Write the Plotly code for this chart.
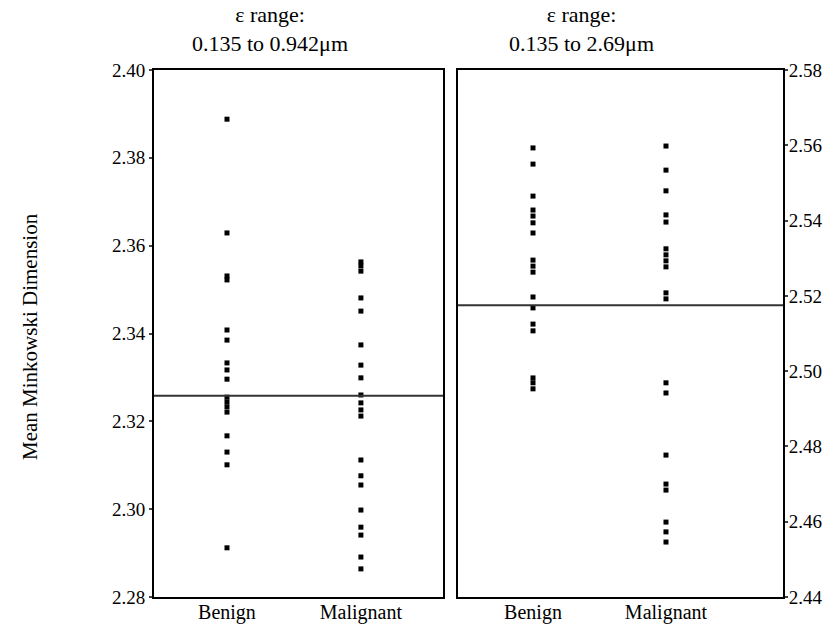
import plotly.graph_objects as go

categories = ["Benign", "Malignant"]

# Left panel: epsilon range 0.135 to 0.942 um
left_benign = [2.3888, 2.3629, 2.3531, 2.3522, 2.3408, 2.3385, 2.3333, 2.3317, 2.3296,
               2.3255, 2.3244, 2.3233, 2.3221, 2.3167, 2.3130, 2.3101, 2.2912]
left_malignant = [2.3563, 2.3554, 2.3542, 2.3481, 2.3451, 2.3374, 2.3328, 2.3299, 2.3260,
                  2.3242, 2.3226, 2.3212, 2.3112, 2.3076, 2.3055, 2.2998, 2.2959, 2.2941,
                  2.2891, 2.2864]
left_threshold = 2.3258

# Right panel: epsilon range 0.135 to 2.69 um
right_benign = [2.5593, 2.5550, 2.5465, 2.5428, 2.5412, 2.5394, 2.5367, 2.5295, 2.5279,
                2.5263, 2.5197, 2.5168, 2.5125, 2.5107, 2.4982, 2.4969, 2.4953]
right_malignant = [2.5598, 2.5534, 2.5479, 2.5415, 2.5396, 2.5325, 2.5309, 2.5293, 2.5277,
                   2.5208, 2.5192, 2.4969, 2.4942, 2.4777, 2.4700, 2.4684, 2.4599, 2.4573,
                   2.4546]
right_threshold = 2.5175

left_ticks = [2.28, 2.30, 2.32, 2.34, 2.36, 2.38, 2.40]
right_ticks = [2.44, 2.46, 2.48, 2.50, 2.52, 2.54, 2.56, 2.58]

titles = ["ε range:<br>0.135 to 0.942μm", "ε range:<br>0.135 to 2.69μm"]
y_title = "Mean Minkowski Dimension"

FONT = "Liberation Serif"
W, H = 825, 637

fig = go.Figure()

marker = dict(symbol="square", size=5, color="black")

for xa, ya, ben, mal in [("x", "y", left_benign, left_malignant),
                         ("x2", "y2", right_benign, right_malignant)]:
    fig.add_trace(go.Scatter(x=[categories[0]] * len(ben), y=ben, mode="markers",
                             marker=marker, xaxis=xa, yaxis=ya, showlegend=False))
    fig.add_trace(go.Scatter(x=[categories[1]] * len(mal), y=mal, mode="markers",
                             marker=marker, xaxis=xa, yaxis=ya, showlegend=False))

# threshold lines spanning each panel
fig.add_shape(type="line", xref="x domain", yref="y", x0=0, x1=1,
              y0=left_threshold, y1=left_threshold, line=dict(color="#333", width=2))
fig.add_shape(type="line", xref="x2 domain", yref="y2", x0=0, x1=1,
              y0=right_threshold, y1=right_threshold, line=dict(color="#333", width=2))

ydom = [1 - 597 / H, 1 - 70 / H]
axis_common = dict(showline=True, linecolor="black", linewidth=2, mirror=True,
                   showgrid=False, zeroline=False, automargin=False)

tick_font = dict(family=FONT, size=20, color="black")
ytick_font = dict(family=FONT, size=19, color="black")

fig.update_layout(
    template="none",
    width=W, height=H,
    margin=dict(l=0, r=0, t=0, b=0, pad=0, autoexpand=False),
    paper_bgcolor="white", plot_bgcolor="white",
    font=dict(family=FONT, color="black"),
    xaxis=dict(domain=[154 / W, 443 / W], type="category", categoryorder="array",
               categoryarray=categories, range=[-0.545, 1.613], ticks="",
               ticklabelstandoff=-4, tickfont=tick_font, **axis_common),
    xaxis2=dict(domain=[458 / W, 783 / W], type="category", categoryorder="array",
                categoryarray=categories, range=[-0.564, 1.88], ticks="",
                ticklabelstandoff=-4, tickfont=tick_font, **axis_common),
    yaxis=dict(domain=ydom, range=[2.28, 2.40], tickvals=left_ticks,
               ticktext=[f"{v:.2f}" for v in left_ticks], ticks="outside", ticklen=3,
               tickwidth=2, anchor="x", tickfont=ytick_font, **axis_common),
    yaxis2=dict(domain=ydom, range=[2.44, 2.58], tickvals=right_ticks,
                ticktext=[f"{v:.2f}" for v in right_ticks], ticks="outside", ticklen=3,
                tickwidth=2, side="right", anchor="x2", ticklabelstandoff=-3,
                tickfont=ytick_font, **axis_common),
)

fig.add_annotation(text=titles[0], xref="paper", yref="paper", x=270 / W, y=1,
                   xanchor="center", yanchor="top", showarrow=False,
                   font=dict(family=FONT, size=22, color="black"))
fig.add_annotation(text=titles[1], xref="paper", yref="paper", x=581 / W, y=1,
                   xanchor="center", yanchor="top", showarrow=False,
                   font=dict(family=FONT, size=22, color="black"))
fig.add_annotation(text=y_title, xref="paper", yref="paper", x=30 / W, y=1 - 337 / H,
                   xanchor="center", yanchor="middle", textangle=-90, showarrow=False,
                   font=dict(family=FONT, size=21, color="black"))

fig.write_html("out.html")
